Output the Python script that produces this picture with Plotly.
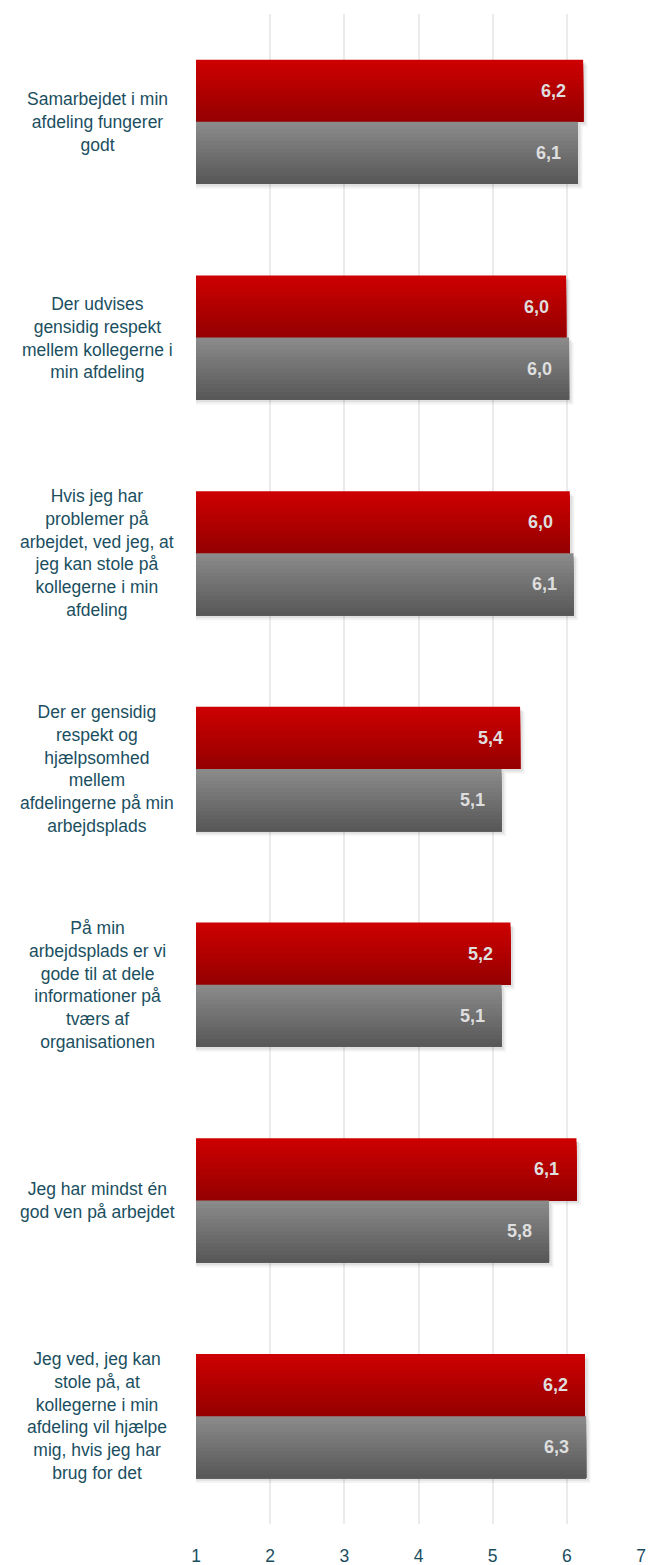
import plotly.graph_objects as go

categories = [
    "Samarbejdet i min<br>afdeling fungerer<br>godt",
    "Der udvises<br>gensidig respekt<br>mellem kollegerne i<br>min afdeling",
    "Hvis jeg har<br>problemer på<br>arbejdet, ved jeg, at<br>jeg kan stole på<br>kollegerne i min<br>afdeling",
    "Der er gensidig<br>respekt og<br>hjælpsomhed<br>mellem<br>afdelingerne på min<br>arbejdsplads",
    "På min<br>arbejdsplads er vi<br>gode til at dele<br>informationer på<br>tværs af<br>organisationen",
    "Jeg har mindst én<br>god ven på arbejdet",
    "Jeg ved, jeg kan<br>stole på, at<br>kollegerne i min<br>afdeling vil hjælpe<br>mig, hvis jeg har<br>brug for det",
]
red_values = [6.22, 5.99, 6.04, 5.37, 5.24, 6.13, 6.245]
red_labels = ["6,2", "6,0", "6,0", "5,4", "5,2", "6,1", "6,2"]
gray_values = [6.15, 6.03, 6.09, 5.12, 5.12, 5.76, 6.26]
gray_labels = ["6,1", "6,0", "6,1", "5,1", "5,1", "5,8", "6,3"]
x_ticks = [1, 2, 3, 4, 5, 6, 7]

TEXT = "#1b4f5f"
FONT = "Liberation Sans, Arial, sans-serif"
BAR_H = 0.288      # thickness of one bar in category units
STRIPS = 16        # strips used to fake the vertical gradient

pos = list(range(len(categories)))


def mix(c1, c2, t):
    return "rgb({},{},{})".format(*[round(a + (b - a) * t) for a, b in zip(c1, c2)])


fig = go.Figure()

# soft drop shadow (two faint layers)
for dx, dy, alpha in [(0.06, 0.022, 0.05), (0.035, 0.012, 0.07)]:
    for values, start in [(red_values, -BAR_H), (gray_values, 0.0)]:
        fig.add_trace(go.Bar(
            y=pos, x=[v - 1 + dx for v in values], base=1, orientation="h",
            width=BAR_H, offset=start + dy,
            marker=dict(color=f"rgba(0,0,0,{alpha})", line_width=0),
            hoverinfo="skip", showlegend=False,
        ))

series = [
    (red_values, (204, 0, 0), (150, 0, 0), -BAR_H),
    (gray_values, (138, 138, 138), (88, 88, 88), 0.0),
]
for values, top, bottom, start in series:
    step = BAR_H / STRIPS
    for k in range(STRIPS):
        # each strip runs to the bottom of the bar, later strips paint over -> no seams
        fig.add_trace(go.Bar(
            y=pos, x=[v - 1 for v in values], base=1, orientation="h",
            width=BAR_H - k * step, offset=start + k * step,
            marker=dict(color=mix(top, bottom, k / (STRIPS - 1)), line_width=0),
            hoverinfo="skip", showlegend=False,
        ))

annotations = []
for i, cat in enumerate(categories):
    annotations.append(dict(
        x=-0.222, xref="paper", y=i, yref="y", text=cat, showarrow=False,
        xanchor="center", yanchor="middle", align="center",
        font=dict(family=FONT, size=17.5, color=TEXT),
    ))
    for val, lab, yy in [(red_values[i], red_labels[i], i - BAR_H / 2),
                         (gray_values[i], gray_labels[i], i + BAR_H / 2)]:
        annotations.append(dict(
            x=val, y=yy, xref="x", yref="y", text=f"<b>{lab}</b>", showarrow=False,
            xanchor="right", yanchor="middle", xshift=-15,
            font=dict(family=FONT, size=18, color="#dedede"),
        ))

fig.update_layout(
    width=648, height=1565,
    barmode="overlay",
    paper_bgcolor="white", plot_bgcolor="white",
    margin=dict(l=196, r=7, t=14, b=41),
    xaxis=dict(
        range=[1, 7], tickvals=x_ticks, ticktext=[str(t) for t in x_ticks],
        showgrid=True, gridcolor="#ebebeb", gridwidth=2,
        zeroline=False, showline=False, ticks="", ticklabelstandoff=19,
        automargin=False,
        tickfont=dict(family=FONT, size=17.5, color=TEXT),
    ),
    yaxis=dict(range=[6.5, -0.5], showticklabels=False, showgrid=False,
               zeroline=False, automargin=False),
    annotations=annotations,
    showlegend=False,
)

# no body margin so the figure fills the window exactly; no modebar
fig.write_html(
    "out.html",
    config={"displayModeBar": False},
    post_script="document.body.style.margin='0';",
)
